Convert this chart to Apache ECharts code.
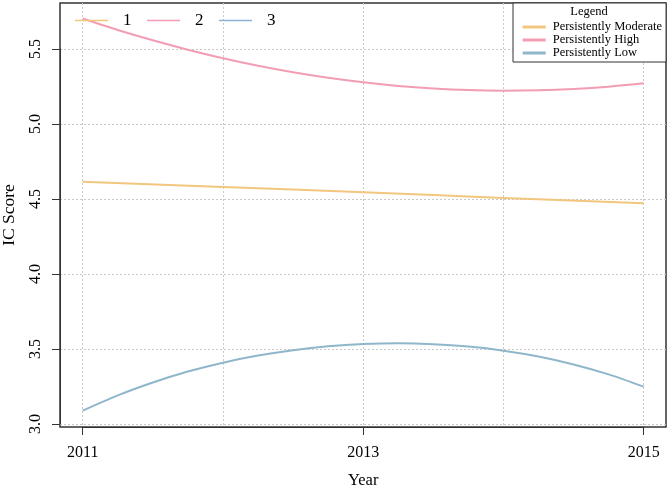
<!DOCTYPE html>
<html>
<head>
<meta charset="utf-8">
<script src="https://cdn.jsdelivr.net/npm/echarts@6/dist/echarts.min.js"></script>
<style>
html,body{margin:0;padding:0;background:#fff;}
#chart{width:669px;height:487px;}
</style>
</head>
<body>
<div id="chart"></div>
<script>
// ---- data ----
const yearsYearly = [2011, 2012, 2013, 2014, 2015];
const yearsQuarter = [2011, 2011.25, 2011.5, 2011.75, 2012, 2012.25, 2012.5, 2012.75, 2013,
                      2013.25, 2013.5, 2013.75, 2014, 2014.25, 2014.5, 2014.75, 2015];
const moderate = [4.615, 4.580, 4.545, 4.507, 4.471];
const high = [5.703, 5.627, 5.558, 5.495, 5.438, 5.388, 5.345, 5.308, 5.278,
              5.254, 5.237, 5.226, 5.222, 5.225, 5.234, 5.249, 5.271];
const low = [3.089, 3.191, 3.277, 3.350, 3.409, 3.456, 3.492, 3.518, 3.533,
             3.538, 3.532, 3.516, 3.489, 3.450, 3.397, 3.331, 3.249];
const seriesNames = ['Persistently Moderate', 'Persistently High', 'Persistently Low'];
const groupLabels = ['1', '2', '3'];
const xTickLabels = [2011, 2013, 2015];
const yTickLabels = ['3.0', '3.5', '4.0', '4.5', '5.0', '5.5'];
const colors = ['#F2C67F', '#F29DB3', '#8FB6CA'];
const groupColors = ['#F2C67F', '#F29DB3', '#8DB3D6'];

const FONT = 'Liberation Serif';
const pair = (xs, ys) => xs.map((x, i) => [x, ys[i]]);

const seriesData = [pair(yearsYearly, moderate), pair(yearsQuarter, high), pair(yearsQuarter, low)];
const dataSeries = seriesData.map((d, i) => ({
  name: seriesNames[i],
  type: 'line',
  xAxisIndex: 0, yAxisIndex: 0,
  data: d,
  smooth: 0.3,
  symbol: 'none',
  clip: false,
  color: colors[i],
  lineStyle: { width: 2, color: colors[i] },
  z: 3
}));
const dummySeries = groupLabels.map((g, i) => ({
  name: g, type: 'line', xAxisIndex: 0, yAxisIndex: 0, data: [],
  symbol: 'none', color: groupColors[i],
  itemStyle: { color: groupColors[i] },
  lineStyle: { width: 1, color: groupColors[i] }
}));

const grid = '#c9c9c9';
const gBase = { containLabel: false, outerBoundsMode: 'none' };
const option = {
  animation: false,
  backgroundColor: '#fff',
  textStyle: { fontFamily: FONT },
  grid: [
    Object.assign({ left: 82.7, right: 25.3, top: 3, bottom: 60 }, gBase),      // data grid
    Object.assign({ left: 60, right: 3, top: 49, bottom: 63 }, gBase),          // y axis grid
    Object.assign({ left: 60, right: 3, top: 3, bottom: 60, show: true, borderColor: '#333', borderWidth: 1.5, backgroundColor: 'transparent' }, gBase) // box
  ],
  title: {
    text: 'Legend', left: 589, top: 5, textAlign: 'center', padding: 0,
    textStyle: { fontFamily: FONT, fontSize: 12.5, fontWeight: 'normal', color: '#000' }
  },
  legend: [
    {
      data: groupLabels, orient: 'horizontal', left: 75, top: 12,
      icon: 'rect', itemWidth: 33, itemHeight: 1.5, itemGap: 15.5, padding: 0,
      itemStyle: { opacity: 1 },
      textStyle: { fontFamily: FONT, fontSize: 17, color: '#000', padding: [0, 0, 0, 10] }
    },
    {
      data: seriesNames, orient: 'vertical', left: 513, top: 3,
      icon: 'rect', itemWidth: 23, itemHeight: 3, itemGap: 0,
      padding: [17.5, 4, 2.5, 9.7],
      backgroundColor: '#fff', borderColor: '#333', borderWidth: 1,
      textStyle: { fontFamily: FONT, fontSize: 12.5, lineHeight: 12.8, color: '#000', padding: [0, 0, 0, 2] }
    }
  ],
  xAxis: [
    { gridIndex: 0, type: 'value', position: 'bottom', min: 2011, max: 2015, interval: 1,
      axisLine: { show: false }, axisTick: { show: false }, axisLabel: { show: false },
      splitLine: { show: true, lineStyle: { color: grid, type: [2, 2], width: 1 } } },
    { gridIndex: 0, type: 'value', position: 'bottom', min: 2011, max: 2015, interval: 2,
      axisLine: { show: true, lineStyle: { color: '#333', width: 1 } },
      axisTick: { show: true, length: 8, lineStyle: { color: '#333' } },
      axisLabel: { show: true, margin: 18, fontFamily: FONT, fontSize: 16, color: '#000',
        formatter: v => { const i = xTickLabels.indexOf(Math.round(v)); return i >= 0 ? String(xTickLabels[i]) : ''; } },
      splitLine: { show: false },
      name: 'Year', nameLocation: 'middle', nameGap: 45.5,
      nameTextStyle: { fontFamily: FONT, fontSize: 16.5, color: '#000' } },
    { gridIndex: 1, type: 'value', show: false, min: 0, max: 1 },
    { gridIndex: 2, type: 'value', show: false, min: 0, max: 1 }
  ],
  yAxis: [
    { gridIndex: 0, type: 'value', min: 2.98, max: 5.8067,
      axisLine: { show: false }, axisTick: { show: false }, axisLabel: { show: false }, splitLine: { show: false },
      name: 'IC Score', nameLocation: 'middle', nameGap: 64.7,
      nameTextStyle: { fontFamily: FONT, fontSize: 17.5, color: '#000' } },
    { gridIndex: 1, type: 'value', min: 3, max: 5.5, interval: 0.5,
      axisLine: { show: true, lineStyle: { color: '#333', width: 1 } },
      axisTick: { show: true, length: 8, lineStyle: { color: '#333' } },
      axisLabel: { show: true, rotate: 90, margin: 16, fontFamily: FONT, fontSize: 16, color: '#000',
        formatter: v => { const i = Math.round((v - 3) / 0.5); return yTickLabels[i] || ''; } },
      splitLine: { show: true, lineStyle: { color: grid, type: [2, 2], width: 1 } } },
    { gridIndex: 2, type: 'value', show: false, min: 0, max: 1 }
  ],
  series: dataSeries.concat(dummySeries)
};

const chart = echarts.init(document.getElementById('chart'), null, { renderer: 'canvas' });
chart.setOption(option);
</script>
</body>
</html>
